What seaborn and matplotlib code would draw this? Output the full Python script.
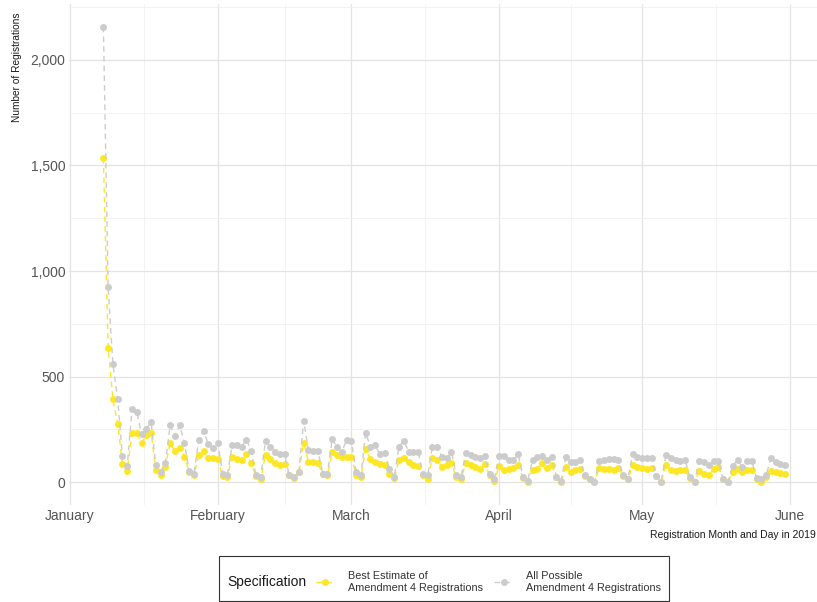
import matplotlib.pyplot as plt
import matplotlib.dates as mdates
import matplotlib.ticker as mticker
from matplotlib.patches import Rectangle
import pandas as pd
import seaborn as sns


# daily registrations from the day amendment 4 took effect
start_date = "2019-01-08"

best_estimate = [
    1535, 638, 392, 278, 85, 52, 232, 232, 185, 222, 234, 57, 32, 73,
    188, 147, 163, 120, 49, 36, 128, 147, 113, 113, 108, 29, 27, 121,
    108, 105, 134, 89, 29, 16, 129, 110, 89, 81, 84, 32, 18, 48,
    185, 97, 94, 89, 40, 32, 145, 129, 121, 121, 121, 35, 27, 156,
    110, 97, 84, 81, 40, 19, 105, 116, 94, 81, 77, 35, 13, 113,
    105, 73, 81, 89, 24, 16, 89, 81, 73, 61, 84, 32, 8, 75,
    56, 65, 68, 81, 19, 3, 60, 65, 89, 68, 81, 24, 3, 73,
    48, 56, 65, 29, 13, 2, 68, 65, 65, 56, 68, 29, 13, 81,
    73, 68, 65, 68, 30, 2, 81, 56, 52, 56, 56, 19, 2, 52,
    40, 35, 61, 73, 13, 2, 48, 65, 48, 56, 56, 13, 3, 24,
    52, 48, 45, 40,
]

all_possible = [
    2157, 923, 559, 392, 123, 76, 346, 333, 227, 254, 284, 80, 49, 92,
    270, 218, 270, 186, 52, 41, 199, 243, 181, 161, 185, 40, 32, 174,
    174, 169, 202, 150, 32, 24, 197, 165, 145, 132, 132, 32, 24, 48,
    292, 153, 148, 148, 40, 40, 205, 165, 145, 198, 197, 48, 32, 234,
    169, 174, 132, 137, 65, 27, 169, 197, 145, 145, 145, 40, 32, 169,
    169, 121, 113, 145, 32, 24, 137, 129, 121, 113, 124, 40, 16, 124,
    126, 105, 105, 132, 24, 8, 105, 121, 126, 105, 121, 27, 8, 121,
    94, 97, 105, 32, 16, 3, 100, 105, 110, 110, 105, 32, 16, 132,
    121, 113, 113, 113, 29, 3, 129, 116, 105, 100, 105, 24, 3, 100,
    94, 81, 100, 100, 16, 2, 77, 105, 73, 100, 100, 19, 13, 32,
    113, 94, 84, 81,
]

spec_labels = [
    "Best Estimate of\nAmendment 4 Registrations",
    "All Possible\nAmendment 4 Registrations",
]
spec_colors = ["#FDE725", "#CCCCCC"]

dates = pd.date_range(start_date, periods=len(best_estimate), freq="D")
df = pd.DataFrame({"date": dates, spec_labels[0]: best_estimate, spec_labels[1]: all_possible})
long_df = df.melt(id_vars="date", var_name="spec", value_name="registrations")

sns.set_theme(style="white")
plt.rcParams["font.family"] = ["Liberation Sans", "DejaVu Sans"]

fig = plt.figure(figsize=(8.17, 6.02), dpi=100)
ax = fig.add_axes([69.3 / 817, 97 / 602, 750 / 817, 501 / 602])

sns.lineplot(
    data=long_df,
    x="date",
    y="registrations",
    hue="spec",
    style="spec",
    hue_order=spec_labels,
    style_order=spec_labels,
    palette=spec_colors,
    dashes=[(4, 3), (4, 3)],
    markers=["o", "o"],
    markersize=5,
    markeredgewidth=0,
    linewidth=1,
    ax=ax,
)

# ggplot style expansion of 5% on both axes
span = dates[-1] - dates[0]
ax.set_xlim(dates[0] - 0.05 * span, dates[-1] + 0.05 * span)
ymax = max(all_possible)
ax.set_ylim(-0.05 * ymax, 1.05 * ymax)

ax.xaxis.set_major_locator(mdates.MonthLocator())
ax.xaxis.set_major_formatter(mdates.DateFormatter("%B"))
month_starts = mdates.date2num(pd.date_range("2018-12-01", "2019-07-01", freq="MS"))
ax.xaxis.set_minor_locator(mticker.FixedLocator((month_starts[:-1] + month_starts[1:]) / 2))
ax.yaxis.set_major_locator(mticker.MultipleLocator(500))
ax.yaxis.set_minor_locator(mticker.MultipleLocator(250))
ax.yaxis.set_major_formatter(mticker.StrMethodFormatter("{x:,.0f}"))

ax.grid(which="major", color="#E3E3E3", linewidth=0.9)
ax.grid(which="minor", color="#F0F0F0", linewidth=0.6)
ax.set_axisbelow(True)
sns.despine(ax=ax, left=True, bottom=True)
ax.tick_params(which="both", length=0, labelsize=10, labelcolor="#555555", pad=3)

ax.set_xlabel("")
ax.set_ylabel("")
fig.text(17 / 817, 1 - 13 / 602, "Number of Registrations", rotation=90,
         ha="center", va="top", fontsize=7.3, color="#1A1A1A")
fig.text(816 / 817, 1 - 535 / 602, "Registration Month and Day in 2019",
         ha="right", va="center", fontsize=7.5, color="#1A1A1A")

# legend at the bottom with the title on its left, inside one box
handles, labels = ax.get_legend_handles_labels()
ax.get_legend().remove()
fig.legend(handles, labels, loc="center", bbox_to_anchor=(488.5 / 817, 20 / 602),
           ncol=2, frameon=False, fontsize=7.8, handlelength=1.7,
           handletextpad=1.2, columnspacing=1.1, labelcolor="#333333")
fig.text(227 / 817, 20 / 602, "Specification", ha="left", va="center",
         fontsize=10, color="#1A1A1A")
fig.add_artist(Rectangle((219 / 817, 1 / 602), 450 / 817, 45 / 602,
                         transform=fig.transFigure, fill=False,
                         edgecolor="#333333", linewidth=0.8))

fig.savefig("out.png", dpi=100)
